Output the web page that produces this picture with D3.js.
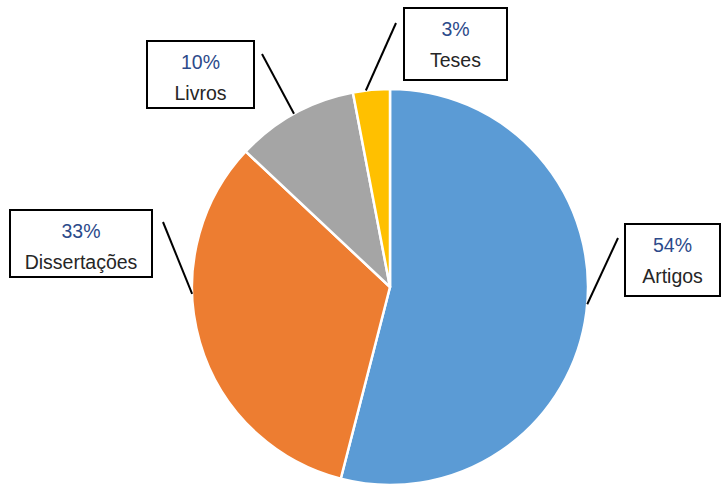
<!DOCTYPE html>
<html>
<head>
<meta charset="utf-8">
<script src="https://cdn.jsdelivr.net/npm/d3@7"></script>
<style>
  html, body { margin: 0; padding: 0; background: #fff; }
  svg { display: block; }
</style>
</head>
<body>
<svg id="chart" width="722" height="487"></svg>
<script>
// Data
const categories = ["Artigos", "Dissertações", "Livros", "Teses"];
const values = [54, 33, 10, 3];
const percentLabels = ["54%", "33%", "10%", "3%"];
const colors = ["#5B9BD5", "#ED7D31", "#A5A5A5", "#FFC000"];

// Layout (label boxes and leader lines)
const layout = [
  { box: [625, 224, 95, 72], anchor: [618, 238], angle: 95 },
  { box: [10, 210, 142, 67], anchor: [163, 222], angle: 268 },
  { box: [147, 41, 107, 67], anchor: [262, 54], angle: 331 },
  { box: [404, 8, 103, 72], anchor: [396, 23], angle: 353 }
];

const cx = 390, cy = 287, r = 198;
const svg = d3.select("#chart");

const pie = d3.pie().sort(null).value(d => d)(values);
const arc = d3.arc().innerRadius(0).outerRadius(r);

const g = svg.append("g").attr("transform", `translate(${cx},${cy})`);
g.selectAll("path")
  .data(pie)
  .join("path")
  .attr("d", arc)
  .attr("fill", (d, i) => colors[i])
  .attr("stroke", "#fff")
  .attr("stroke-width", 2.5)
  .attr("stroke-linejoin", "round");

// Leader lines
layout.forEach((L, i) => {
  const a = L.angle * Math.PI / 180;
  const px = cx + r * Math.sin(a);
  const py = cy - r * Math.cos(a);
  svg.append("line")
    .attr("x1", L.anchor[0]).attr("y1", L.anchor[1])
    .attr("x2", px).attr("y2", py)
    .attr("stroke", "#000").attr("stroke-width", 2);
});

// Label boxes
layout.forEach((L, i) => {
  const [bx, by, bw, bh] = L.box;
  svg.append("rect")
    .attr("x", bx).attr("y", by).attr("width", bw).attr("height", bh)
    .attr("fill", "#fff").attr("stroke", "#000").attr("stroke-width", 2);
  const tx = bx + bw / 2;
  svg.append("text")
    .attr("x", tx).attr("y", by + 28)
    .attr("text-anchor", "middle")
    .attr("font-family", "Arial, 'Liberation Sans', sans-serif")
    .attr("font-size", 19.5)
    .attr("fill", "#2C4A8A")
    .text(percentLabels[i]);
  svg.append("text")
    .attr("x", tx).attr("y", by + 59)
    .attr("text-anchor", "middle")
    .attr("font-family", "Arial, 'Liberation Sans', sans-serif")
    .attr("font-size", 19.5)
    .attr("fill", "#262626")
    .text(categories[i]);
});
</script>
</body>
</html>
